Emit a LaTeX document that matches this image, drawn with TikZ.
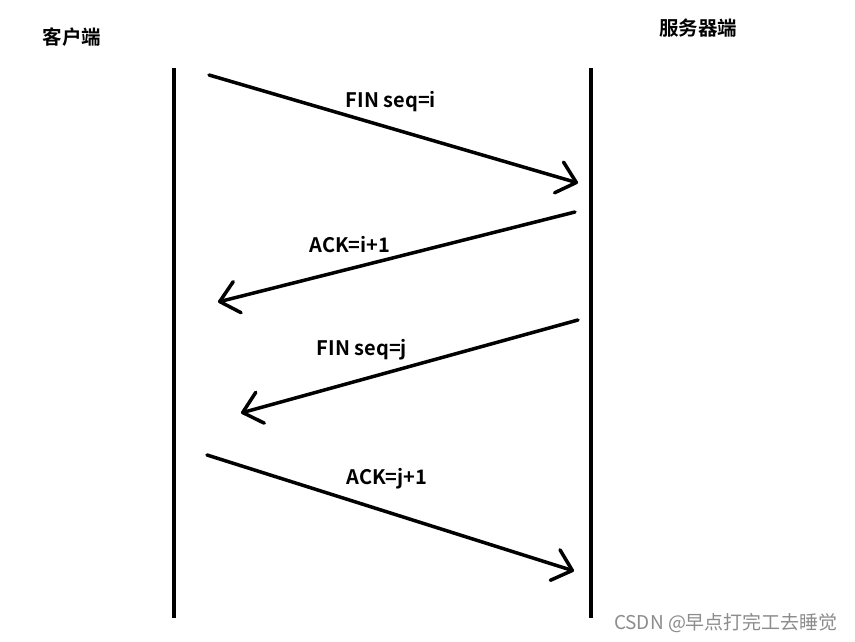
\documentclass[tikz,border=0pt]{standalone}
\usepackage{fontspec}
\setmainfont{Noto Sans CJK SC}
\newfontfamily\cjkbold{Noto Sans CJK SC Bold}
\usetikzlibrary{arrows.meta}
\begin{document}
\begin{tikzpicture}[x=1pt,y=-1pt,
  life/.style={line width=3.5pt},
  msg/.style={line width=3.5pt,line cap=round,-{Straight Barb[length=18pt,width=32pt,line width=3.5pt,round]}},
  lab/.style={font=\cjkbold\fontsize{20}{24}\selectfont,inner sep=0pt},
  title/.style={font=\cjkbold\fontsize{19.5}{23}\selectfont,inner sep=0pt},
  wmark/.style={font=\fontsize{19}{22}\selectfont,text=black!45,inner sep=0pt}]
\useasboundingbox[fill=white] (0,0) rectangle (855,642);
\coordinate (lt) at (174,68);
\coordinate (lb) at (174,618);
\coordinate (rt) at (591,68);
\coordinate (rb) at (591,618);
\draw[life] (lt) -- (lb);
\draw[life] (rt) -- (rb);
\node[title] (c) at (72,37) {客户端};
\node[title] (s) at (698,28) {服务器端};
\coordinate (a1s) at (209,75);
\coordinate (a1e) at (578,183);
\coordinate (a2s) at (575,212);
\coordinate (a2e) at (218,302);
\coordinate (a3s) at (578,320);
\coordinate (a3e) at (241,413);
\coordinate (a4s) at (207,455);
\coordinate (a4e) at (574,571);
\draw[msg] (a1s) -- (a1e);
\draw[msg] (a2s) -- (a2e);
\draw[msg] (a3s) -- (a3e);
\draw[msg] (a4s) -- (a4e);
\node[lab] (l1) at (391,102) {FIN seq=i};
\node[lab] (l2) at (350,245) {ACK=i+1};
\node[lab] (l3) at (362,350) {FIN seq=j};
\node[lab] (l4) at (387,479) {ACK=j+1};
\node[wmark] (w) at (726,623) {CSDN @早点打完工去睡觉};
\end{tikzpicture}
\end{document}
